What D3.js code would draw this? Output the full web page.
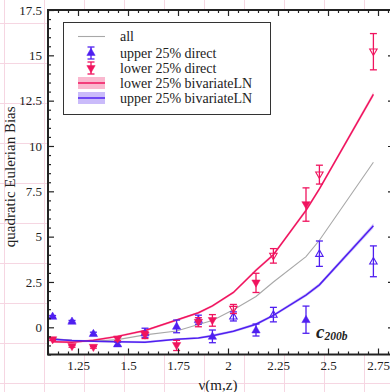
<!DOCTYPE html>
<html>
<head>
<meta charset="utf-8">
<script src="https://cdn.jsdelivr.net/npm/d3@7"></script>
<style>
  body { margin: 0; background: #fff; }
  svg { display: block; }
  text { font-family: "Liberation Serif", "Times New Roman", serif; fill: #222; }
</style>
</head>
<body>
<script>
// chart data
const nu = [1.123, 1.22, 1.327, 1.448, 1.585, 1.743, 1.852, 1.922, 2.027, 2.14, 2.227, 2.39, 2.457, 2.727];
const allBias = [-0.62, -0.72, -0.77, -0.68, -0.42, -0.2, 0.15, 0.38, 0.97, 1.7, 2.5, 3.9, 4.8, 9.1];
const lowerLN = [-0.8, -0.82, -0.72, -0.5, -0.18, 0.4, 0.8, 1.18, 1.92, 3.15, 4.0, 6.45, 7.63, 12.85];
const upperLN = [-0.66, -0.73, -0.77, -0.8, -0.82, -0.66, -0.59, -0.46, -0.22, 0.17, 0.66, 1.78, 2.34, 5.6];
const lnBand = [0.06, 0.06, 0.06, 0.06, 0.06, 0.06, 0.06, 0.07, 0.07, 0.08, 0.08, 0.1, 0.1, 0.14];
const upperDirect = [0.6, 0.33, -0.35, -0.92, -0.3, 0.05, 0.42, -0.5, 0.6, -0.15, 0.7, 0.42, 4.06, 3.64];
const upperErr = [0.05, 0.05, 0.08, 0.1, 0.25, 0.35, 0.25, 0.35, 0.25, 0.33, 0.4, 0.75, 0.7, 0.85];
const lowerDirect = [-0.68, -1.05, -1.1, -0.64, -0.42, -1.0, 0.28, 0.38, 1.01, 2.45, 3.94, 6.77, 8.42, 15.2];
const lowerErr = [0.05, 0.05, 0.05, 0.1, 0.2, 0.28, 0.25, 0.32, 0.25, 0.53, 0.4, 0.92, 0.52, 1.0];
const openMarker = [false, false, false, false, false, false, false, false, true, false, true, false, true, true];
const xTicks = [1.25, 1.5, 1.75, 2, 2.25, 2.5, 2.75];
const yTicks = [0, 2.5, 5, 7.5, 10, 12.5, 15, 17.5];
const legendLabels = ['all', 'upper 25% direct', 'lower 25% direct', 'lower 25% bivariateLN', 'upper 25% bivariateLN'];

const width = 390, height = 392;
const blue = '#4f1ff0', pink = '#f0145f', grey = '#a8a8a8';
const margin = {top: 10, right: -4, bottom: 37.5, left: 48};

const svg = d3.select('body').append('svg')
    .attr('width', width)
    .attr('height', height);

// pink notebook grid in the background
const bg = svg.append('g').attr('stroke', '#f6d6e2').attr('stroke-width', 1);
d3.range(4, width, 40).forEach(x => bg.append('line').attr('x1', x + .5).attr('x2', x + .5).attr('y1', 0).attr('y2', height));
d3.range(23, height, 40).forEach(y => bg.append('line').attr('y1', y + .5).attr('y2', y + .5).attr('x1', 0).attr('x2', width));

const x = d3.scaleLinear().domain([1.1, 2.83]).range([margin.left, width - margin.right]);
const y = d3.scaleLinear().domain([-1.5, 17.5]).range([height - margin.bottom, margin.top]);

// plot area white
svg.append('rect')
    .attr('x', x(1.1)).attr('y', y(17.5))
    .attr('width', x(2.83) - x(1.1)).attr('height', y(-1.5) - y(17.5))
    .attr('fill', '#fff');

const plot = svg.append('g');

// bands and lines
const band = d3.area()
    .x((d, i) => x(nu[i]))
    .y0((d, i) => y(d - lnBand[i]))
    .y1((d, i) => y(d + lnBand[i]));
const line = d3.line().x((d, i) => x(nu[i])).y(d => y(d));

plot.append('path').attr('d', band(lowerLN)).attr('fill', pink).attr('opacity', 0.25);
plot.append('path').attr('d', band(upperLN)).attr('fill', blue).attr('opacity', 0.25);
plot.append('path').attr('d', line(allBias)).attr('fill', 'none').attr('stroke', grey).attr('stroke-width', 1.1);
plot.append('path').attr('d', line(lowerLN)).attr('fill', 'none').attr('stroke', pink).attr('stroke-width', 1.5);
plot.append('path').attr('d', line(upperLN)).attr('fill', 'none').attr('stroke', blue).attr('stroke-width', 1.5);

// direct measurements with error bars
const triUp = d3.symbol(d3.symbolTriangle, 30)();
const triUpOpen = d3.symbol(d3.symbolTriangle, 24)();

function errorSeries(vals, errs, color, down) {
    const g = plot.append('g').attr('stroke', color).attr('stroke-width', 1.3);
    vals.forEach((v, i) => {
        const cx = x(nu[i]);
        const pt = g.append('g');
        const lo = y(v - errs[i]), hi = y(v + errs[i]);
        pt.append('line').attr('x1', cx).attr('x2', cx).attr('y1', lo).attr('y2', hi);
        pt.append('line').attr('x1', cx - 3.5).attr('x2', cx + 3.5).attr('y1', lo).attr('y2', lo);
        pt.append('line').attr('x1', cx - 3.5).attr('x2', cx + 3.5).attr('y1', hi).attr('y2', hi);
        pt.append('path')
            .attr('d', openMarker[i] ? triUpOpen : triUp)
            .attr('transform', `translate(${cx},${y(v) + (down ? -0.5 : 0.5)}) rotate(${down ? 180 : 0})`)
            .attr('fill', openMarker[i] ? 'none' : color)
            .attr('stroke-width', openMarker[i] ? 1.1 : 0.5);
    });
}
errorSeries(upperDirect, upperErr, blue, false);
errorSeries(lowerDirect, lowerErr, pink, true);

// axes: major ticks labelled, minor ticks between
const xMinor = d3.range(1.1, 2.83, 0.05).filter(v => !xTicks.some(t => Math.abs(t - v) < 1e-6));
const yMinor = d3.range(-1.5, 17.51, 0.5).filter(v => !yTicks.some(t => Math.abs(t - v) < 1e-6));
const fmt = d3.format('~g');

function addAxis(axisFn, scale, values, size, pos, labels) {
    const a = axisFn(scale).tickValues(values).tickSizeInner(-size).tickSizeOuter(0).tickPadding(labels ? 6 : 0)
        .tickFormat(labels ? fmt : '');
    const g = svg.append('g').attr('transform', pos).call(a);
    g.select('.domain').remove();
    g.selectAll('.tick line').attr('stroke', '#222').attr('stroke-width', 1.2);
    g.selectAll('.tick text').style('font-size', '13px').attr('font-family', null).attr('fill', '#222');
    return g;
}
addAxis(d3.axisBottom, x, xTicks, 6, `translate(0,${y(-1.5)})`, true);
addAxis(d3.axisBottom, x, xMinor, 3, `translate(0,${y(-1.5)})`, false);
addAxis(d3.axisTop, x, xTicks, 6, `translate(0,${y(17.5)})`, false);
addAxis(d3.axisTop, x, xMinor, 3, `translate(0,${y(17.5)})`, false);
addAxis(d3.axisLeft, y, yTicks, 6, `translate(${x(1.1)},0)`, true);
addAxis(d3.axisLeft, y, yMinor, 3, `translate(${x(1.1)},0)`, false);
addAxis(d3.axisRight, y, yTicks, 6, `translate(${x(2.83)},0)`, false);
addAxis(d3.axisRight, y, yMinor, 3, `translate(${x(2.83)},0)`, false);

// frame
svg.append('rect')
    .attr('x', x(1.1)).attr('y', y(17.5))
    .attr('width', x(2.83) - x(1.1)).attr('height', y(-1.5) - y(17.5))
    .attr('fill', 'none').attr('stroke', '#222').attr('stroke-width', 2);

// axis titles
svg.append('text')
    .attr('x', x(1.95)).attr('y', 390)
    .attr('text-anchor', 'middle')
    .style('font-size', '15px')
    .text('ν(m,z)');
svg.append('text')
    .attr('transform', `translate(15,${y(8.3)}) rotate(-90)`)
    .attr('text-anchor', 'middle')
    .style('font-size', '15px')
    .text('quadratic Eulerian Bias');

// c200b label
const lab = svg.append('text')
    .attr('x', 316).attr('y', 338)
    .style('font-weight', 'bold').style('font-style', 'italic');
lab.append('tspan').style('font-size', '19px').text('c');
lab.append('tspan').style('font-size', '11.5px').attr('dy', 2).text('200b');

// legend
const leg = svg.append('g');
leg.append('rect')
    .attr('x', 63.5).attr('y', 22.5).attr('width', 207).attr('height', 92)
    .attr('fill', '#fff').attr('stroke', '#333').attr('stroke-width', 1);
const rowY = [36.5, 53, 68, 83, 98];
legendLabels.forEach((t, i) => {
    leg.append('text').attr('x', 120).attr('y', rowY[i] + 4.5).style('font-size', '14px').text(t);
});
leg.append('line').attr('x1', 78).attr('x2', 105).attr('y1', rowY[0]).attr('y2', rowY[0]).attr('stroke', grey).attr('stroke-width', 1.1);
[[blue, false, 1], [pink, true, 2]].forEach(([c, down, i]) => {
    const g = leg.append('g').attr('stroke', c).attr('stroke-width', 1.3);
    const cy = rowY[i];
    g.append('line').attr('x1', 91).attr('x2', 91).attr('y1', cy - 6).attr('y2', cy + 6);
    g.append('line').attr('x1', 87.5).attr('x2', 94.5).attr('y1', cy - 6).attr('y2', cy - 6);
    g.append('line').attr('x1', 87.5).attr('x2', 94.5).attr('y1', cy + 6).attr('y2', cy + 6);
    g.append('path').attr('d', triUp).attr('fill', c).attr('stroke-width', 0.5)
        .attr('transform', `translate(91,${cy}) rotate(${down ? 180 : 0})`);
});
[[pink, 3], [blue, 4]].forEach(([c, i]) => {
    leg.append('rect').attr('x', 78).attr('y', rowY[i] - 6).attr('width', 27).attr('height', 12)
        .attr('fill', c).attr('opacity', 0.3);
    leg.append('line').attr('x1', 78).attr('x2', 105).attr('y1', rowY[i]).attr('y2', rowY[i])
        .attr('stroke', c).attr('stroke-width', 1.5);
});
</script>
</body>
</html>
